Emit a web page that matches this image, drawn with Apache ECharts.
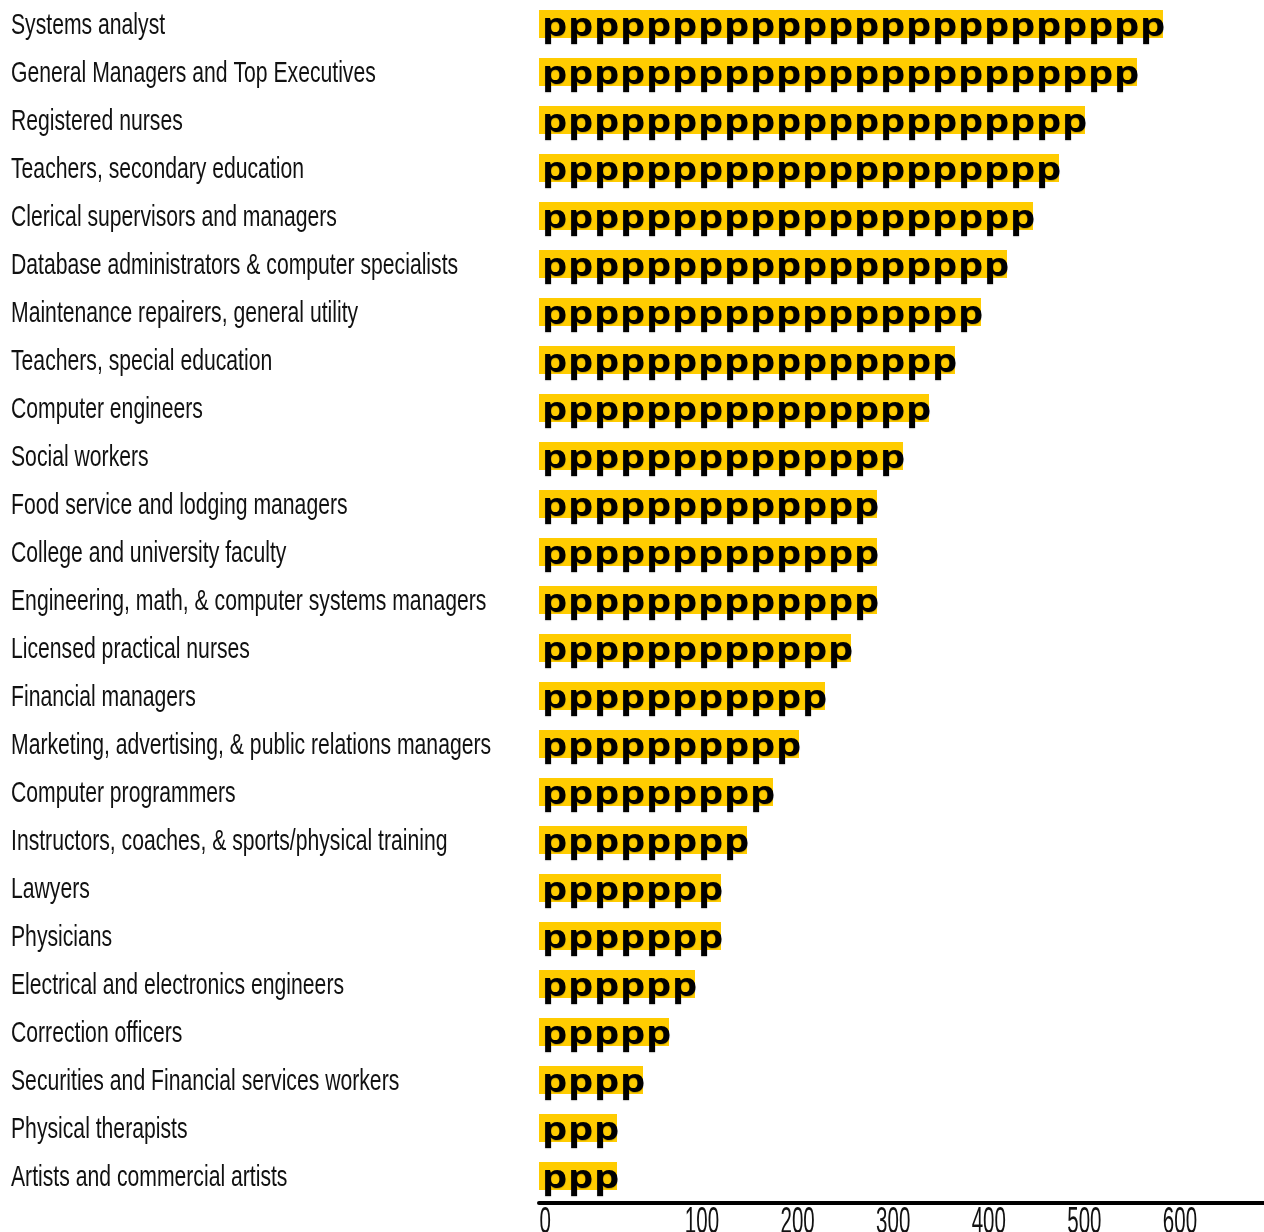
<!DOCTYPE html>
<html>
<head>
<meta charset="utf-8">
<script src="https://cdn.jsdelivr.net/npm/echarts@6/dist/echarts.min.js"></script>
<style>
  html, body { margin: 0; padding: 0; background: #ffffff; }
  #chart { width: 1264px; height: 1232px; }
</style>
</head>
<body>
<div id="chart"></div>
<script>
// Occupations (top to bottom)
var categories = [
  'Systems analyst',
  'General Managers and Top Executives',
  'Registered nurses',
  'Teachers, secondary education',
  'Clerical supervisors and managers',
  'Database administrators & computer specialists',
  'Maintenance repairers, general utility',
  'Teachers, special education',
  'Computer engineers',
  'Social workers',
  'Food service and lodging managers',
  'College and university faculty',
  'Engineering, math, & computer systems managers',
  'Licensed practical nurses',
  'Financial managers',
  'Marketing, advertising, & public relations managers',
  'Computer programmers',
  'Instructors, coaches, & sports/physical training',
  'Lawyers',
  'Physicians',
  'Electrical and electronics engineers',
  'Correction officers',
  'Securities and Financial services workers',
  'Physical therapists',
  'Artists and commercial artists'
];
// number of pictogram symbols ("p") per occupation
var iconCounts = [24, 23, 21, 20, 19, 18, 17, 16, 15, 14, 13, 13, 13, 12, 11, 10, 9, 8, 7, 7, 6, 5, 4, 3, 3];
// bottom axis tick labels and their axis values
var xTickLabels = ['0', '100', '200', '300', '400', '500', '600'];
var xTickValues = [-64, 100, 200, 300, 400, 500, 600];

var condensedFont = "'Liberation Sans', Arial, sans-serif";

var chart = echarts.init(document.getElementById('chart'), null, { renderer: 'canvas' });

var barData = iconCounts.map(function (c, i) { return [c, categories[i]]; });
var catLabelData = categories.map(function (c) { return [0, c]; });
var tickData = xTickValues.map(function (v, i) { return [v, 0, xTickLabels[i]]; });

var option = {
  animation: false,
  backgroundColor: '#ffffff',
  grid: { left: 539, right: 0, top: 0, bottom: 32, containLabel: false },
  xAxis: [
    {
      type: 'value', min: 0, max: 27.885,
      axisLine: { show: false }, axisTick: { show: false },
      axisLabel: { show: false }, splitLine: { show: false }
    },
    {
      type: 'value', min: -70.5, max: 687.9, position: 'bottom', offset: 3,
      axisLine: { show: true, lineStyle: { color: '#000', width: 4 } },
      axisTick: { show: false },
      splitLine: { show: false },
      axisLabel: { show: false }
    }
  ],
  yAxis: [
    {
      type: 'category', data: categories, inverse: true,
      axisLine: { show: false }, axisTick: { show: false }, splitLine: { show: false },
      axisLabel: { show: false }
    },
    {
      type: 'value', min: 0, max: 1, show: false
    }
  ],
  series: [
    {
      // pictogram bars
      type: 'custom',
      xAxisIndex: 0,
      yAxisIndex: 0,
      encode: { x: 0, y: 1 },
      data: barData,
      renderItem: function (params, api) {
        var n = api.value(0);
        var cat = api.value(1);
        var start = api.coord([0, cat]);
        var end = api.coord([n, cat]);
        var unit = api.size([1, 0])[0];
        var cy = start[1];
        var children = [{
          type: 'rect',
          shape: { x: start[0], y: cy - 14, width: end[0] - start[0], height: 28 },
          style: { fill: '#FFCC00' }
        }];
        for (var i = 0; i < n; i++) {
          children.push({
            type: 'text',
            x: start[0] + (i + 0.6) * unit,
            y: cy + 3,
            scaleX: 1.25,
            style: {
              text: 'p',
              fill: '#000',
              font: "bold 32px 'Open Sans', sans-serif",
              align: 'center',
              verticalAlign: 'middle',
              textShadowColor: 'rgba(0,0,0,0.22)',
              textShadowOffsetY: 1.2,
              textShadowBlur: 1
            }
          });
        }
        return { type: 'group', children: children };
      }
    },
    {
      // category labels (condensed)
      type: 'custom',
      xAxisIndex: 0,
      yAxisIndex: 0,
      encode: { x: 0, y: 1 },
      data: catLabelData,
      clip: false,
      renderItem: function (params, api) {
        var p = api.coord([0, api.value(1)]);
        return {
          type: 'text',
          x: params.coordSys.x - 528,
          y: p[1] + 1.5,
          scaleX: 0.73,
          style: {
            text: categories[params.dataIndex],
            fill: '#111',
            font: "29px " + condensedFont,
            align: 'left',
            verticalAlign: 'middle'
          }
        };
      }
    },
    {
      // x axis tick labels (condensed)
      type: 'custom',
      xAxisIndex: 1,
      yAxisIndex: 1,
      encode: { x: 0, y: 1 },
      data: tickData,
      clip: false,
      renderItem: function (params, api) {
        var p = api.coord([api.value(0), 0]);
        return {
          type: 'text',
          x: p[0],
          y: p[1] + 23,
          scaleX: 0.57,
          style: {
            text: xTickLabels[params.dataIndex],
            fill: '#111',
            font: "36px " + condensedFont,
            align: 'center',
            verticalAlign: 'middle'
          }
        };
      }
    }
  ]
};

chart.setOption(option);
</script>
</body>
</html>
